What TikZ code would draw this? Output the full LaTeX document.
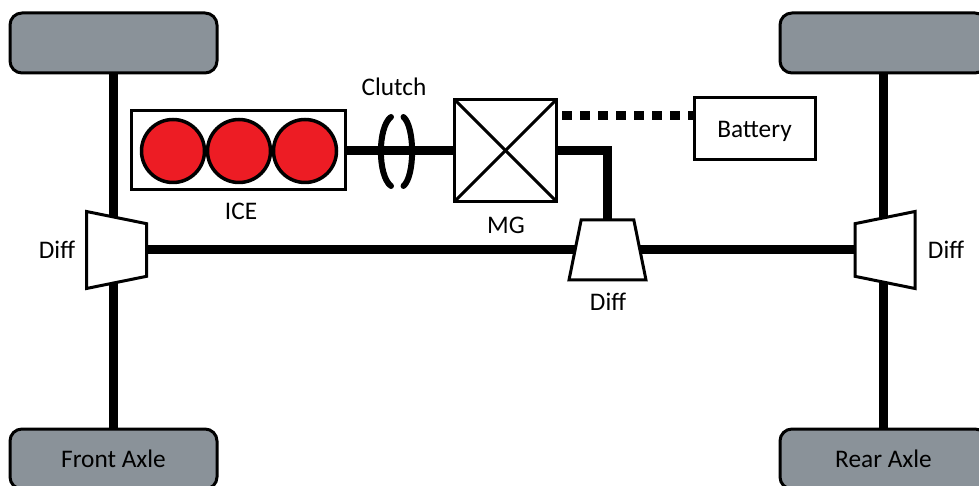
\documentclass[tikz,border=0pt]{standalone}
\usepackage{fontspec}
\setmainfont{Carlito}
\usepackage{tikz}
\usetikzlibrary{shapes.geometric}
\definecolor{tiregray}{HTML}{8A9299}
\definecolor{cylred}{HTML}{ED1C24}

\tikzset{
  tire/.style={draw, fill=tiregray, line width=0.6mm, rounded corners=2.4mm,
    minimum width=4.14cm, minimum height=1.2cm, inner sep=0, outer sep=0},
  diffbox/.style={draw, fill=white, line width=0.6mm, trapezium, trapezium stretches=true,
    trapezium left angle=77, trapezium right angle=77,
    minimum width=1.54cm, minimum height=1.2cm, inner sep=1pt, outer sep=0},
  cylinder/.style={circle, draw, fill=cylred, line width=0.7mm,
    minimum size=1.26cm, inner sep=0, outer sep=0},
  unitbox/.style={draw, fill=white, line width=0.6mm, inner sep=0, outer sep=0},
  shaft/.style={line width=1.8mm},
  clutchplate/.style={line width=1.2mm, line cap=round}
}

\begin{document}
\begin{tikzpicture}\fontsize{14.4}{17}\selectfont

    \useasboundingbox (0, 0) rectangle (19.58, 9.7);

    \node[tire] (frontTop) at (2.27, 8.84) {};
    \node[tire] (rearTop) at (17.67, 8.84) {};
    \node[tire] (frontBottom) at (2.27, 0.52) {Front Axle};
    \node[tire] (rearBottom) at (17.67, 0.52) {Rear Axle};

    \draw[shaft] (frontTop.south) -- (frontBottom.north);
    \draw[shaft] (rearTop.south) -- (rearBottom.north);

    \node[diffbox, rotate=-90] (frontDiff) at (2.33, 4.7) {};
    \node[diffbox, rotate=90] (rearDiff) at (17.7, 4.7) {};

    \draw[shaft] (frontDiff.north) -- (rearDiff.north);

    \node[diffbox] (midDiff) at (12.15, 4.7) {};

    \node[unitbox, minimum width=4.28cm, minimum height=1.58cm] (ice) at (4.76, 6.69) {};
    \node[cylinder] (cylOne) at (3.46, 6.68) {};
    \node[cylinder] (cylTwo) at (4.78, 6.68) {};
    \node[cylinder] (cylThree) at (6.1, 6.68) {};

    \node[unitbox, minimum width=2.05cm, minimum height=2.05cm] (mg) at (10.11, 6.69) {};
    \draw[line width=0.6mm] (mg.north west) -- (mg.south east);
    \draw[line width=0.6mm] (mg.north east) -- (mg.south west);

    \node[unitbox, minimum width=2.42cm, minimum height=1.24cm, text depth=0pt] (battery) at (15.09, 7.12) {Battery};

    % clutch plates
    \draw[clutchplate] (7.82, 7.36) .. controls (7.55, 7.16) and (7.55, 6.18) .. (7.82, 5.98);
    \draw[clutchplate] (8.07, 7.36) .. controls (8.3, 7.16) and (8.3, 6.18) .. (8.07, 5.98);

    \draw[shaft] (ice.east) -- (mg.west);
    \draw[shaft] (mg.east) -| (midDiff.north);

    \coordinate (mgPort) at (11.24, 7.38);
    \draw[shaft, dash pattern=on 2mm off 1.6mm] (mgPort) -- (battery.west |- mgPort);

    \node (clutchLabel) at (7.88, 7.96) {Clutch};
    \node (iceLabel) at (4.82, 5.48) {ICE};
    \node (mgLabel) at (10.12, 5.2) {MG};
    \node (midLabel) at (12.16, 3.66) {Diff};
    \node (frontLabel) at (1.14, 4.7) {Diff};
    \node (rearLabel) at (18.92, 4.7) {Diff};

  \end{tikzpicture}
\end{document}
